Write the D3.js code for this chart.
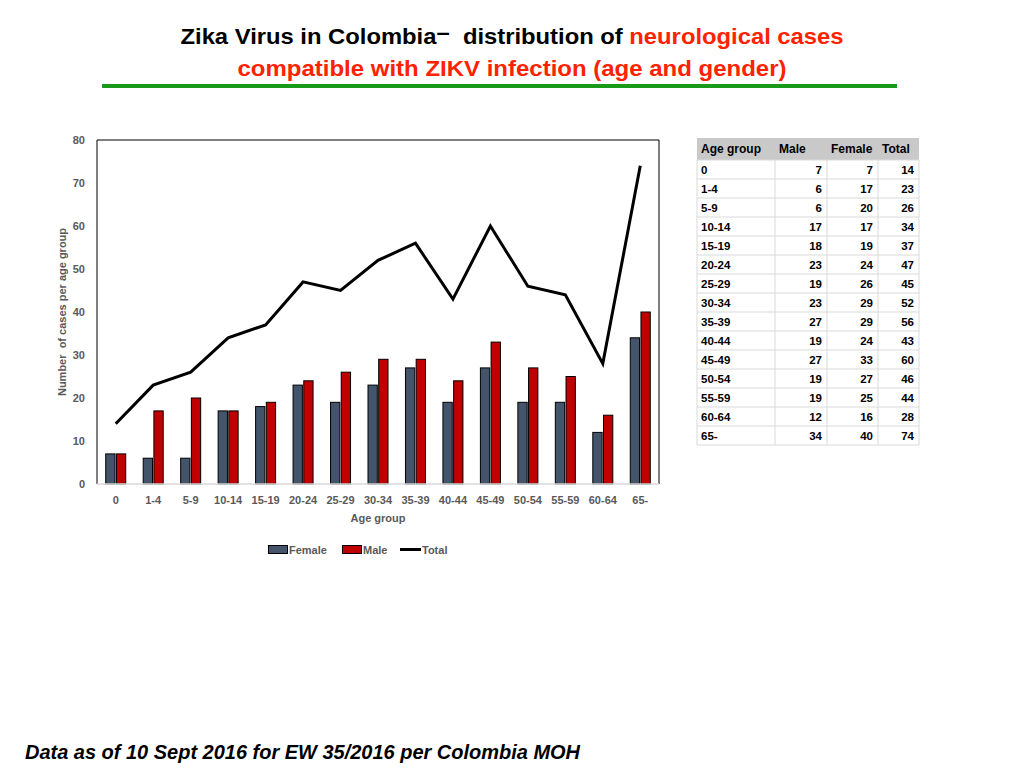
<!DOCTYPE html>
<html>
<head>
<meta charset="utf-8">
<script src="https://cdn.jsdelivr.net/npm/d3@7"></script>
<style>
  body { margin: 0; background: #fff; }
  svg text { font-family: "Liberation Sans", Arial, Helvetica, sans-serif; white-space: pre; }
</style>
</head>
<body>
<div id="chart"></div>
<script>
// age groups and counts (as listed in the table on the slide)
var ageGroups = ["0", "1-4", "5-9", "10-14", "15-19", "20-24", "25-29", "30-34",
                 "35-39", "40-44", "45-49", "50-54", "55-59", "60-64", "65-"];
var maleCases   = [7, 6, 6, 17, 18, 23, 19, 23, 27, 19, 27, 19, 19, 12, 34];
var femaleCases = [7, 17, 20, 17, 19, 24, 26, 29, 29, 24, 33, 27, 25, 16, 40];
var totalCases  = [14, 23, 26, 34, 37, 47, 45, 52, 56, 43, 60, 46, 44, 28, 74];
var yTicks = [0, 10, 20, 30, 40, 50, 60, 70, 80];
// the chart legend on the slide labels the first column "Female", the second "Male"
var barSeries = ["Female", "Male"];
var tableHeader = ["Age group", "Male", "Female", "Total"];

var dark = "#44546a", red = "#c00000", gray = "#595959";

var svg = d3.select("#chart").append("svg")
    .attr("width", 1024).attr("height", 768);

// title
var t1 = svg.append("text").attr("x", 512).attr("y", 44)
    .attr("text-anchor", "middle").attr("font-size", 22).attr("font-weight", "bold")
    .attr("textLength", 663).attr("lengthAdjust", "spacingAndGlyphs");
t1.append("tspan").attr("fill", "#000").text("Zika Virus in Colombia");
t1.append("tspan").attr("fill", "#000").attr("dy", -4).text("\u2013");
t1.append("tspan").attr("fill", "#000").attr("dy", 4).text("  distribution of ");
t1.append("tspan").attr("fill", "#ff2200").text("neurological cases");
svg.append("text").attr("x", 512).attr("y", 76)
    .attr("text-anchor", "middle").attr("font-size", 22).attr("font-weight", "bold")
    .attr("fill", "#ff2200")
    .attr("textLength", 549).attr("lengthAdjust", "spacingAndGlyphs")
    .text("compatible with ZIKV infection (age and gender)");
svg.append("rect").attr("x", 102).attr("y", 84).attr("width", 795).attr("height", 4)
    .attr("fill", "#1a9a1a");

// chart
var plotL = 97, plotR = 659, plotT = 140, plotB = 484;
var x = d3.scaleBand().domain(ageGroups).range([plotL, plotR]);
var y = d3.scaleLinear().domain([0, 80]).range([plotB, plotT]);
var bw = x.bandwidth();
var x1 = d3.scaleBand().domain(barSeries).range([bw / 2 - 10, bw / 2 + 10]).paddingInner(0.13);

var rows = ageGroups.map(function(g, i) {
    return { group: g, Female: maleCases[i], Male: femaleCases[i], total: totalCases[i] };
});

// frame
svg.append("path")
    .attr("d", "M" + plotL + "," + plotB + "V" + plotT + "H" + plotR + "V" + plotB)
    .attr("fill", "none").attr("stroke", "#000").attr("stroke-width", 1);

// y axis
var yAxis = svg.append("g").attr("transform", "translate(" + plotL + ",0)")
    .call(d3.axisLeft(y).tickValues(yTicks).tickSize(0).tickPadding(12));
yAxis.select(".domain").remove();
yAxis.selectAll("text").attr("font-size", 11).attr("font-weight", "bold").attr("fill", gray)
    .attr("font-family", "Liberation Sans, Arial, sans-serif");

svg.append("text")
    .attr("transform", "translate(66," + ((plotT + plotB) / 2) + ") rotate(-90)")
    .attr("text-anchor", "middle").attr("font-size", 11).attr("font-weight", "bold")
    .attr("fill", gray).text("Number  of cases per age group");

// x axis
var xAxis = svg.append("g").attr("transform", "translate(0," + plotB + ")")
    .call(d3.axisBottom(x).tickSize(0).tickPadding(12));
xAxis.select(".domain").remove();
xAxis.selectAll("text").attr("font-size", 11).attr("font-weight", "bold").attr("fill", gray)
    .attr("font-family", "Liberation Sans, Arial, sans-serif");

svg.append("text").attr("x", (plotL + plotR) / 2).attr("y", 522)
    .attr("text-anchor", "middle").attr("font-size", 11).attr("font-weight", "bold")
    .attr("fill", gray).text("Age group");

// bars
var colors = { Female: dark, Male: red };
svg.append("g").selectAll("g")
    .data(rows).enter().append("g")
    .attr("transform", function(d) { return "translate(" + x(d.group) + ",0)"; })
    .selectAll("rect")
    .data(function(d) { return barSeries.map(function(k) { return { key: k, value: d[k] }; }); })
    .enter().append("rect")
    .attr("x", function(d) { return x1(d.key); })
    .attr("y", function(d) { return y(d.value); })
    .attr("width", x1.bandwidth())
    .attr("height", function(d) { return plotB - y(d.value); })
    .attr("fill", function(d) { return colors[d.key]; })
    .attr("stroke", "#000").attr("stroke-width", 1);

svg.append("line").attr("x1", plotL).attr("x2", plotR).attr("y1", plotB).attr("y2", plotB)
    .attr("stroke", "#d9d9d9").attr("stroke-width", 1.5);

// total line
var line = d3.line()
    .x(function(d) { return x(d.group) + bw / 2; })
    .y(function(d) { return y(d.total); });
svg.append("path").datum(rows).attr("d", line)
    .attr("fill", "none").attr("stroke", "#000").attr("stroke-width", 3)
    .attr("stroke-linejoin", "miter");

// legend
var legend = svg.append("g").attr("transform", "translate(268,550)");
var legItems = [
    { name: "Female", type: "rect", color: dark, x: 0 },
    { name: "Male", type: "rect", color: red, x: 74 },
    { name: "Total", type: "line", color: "#000", x: 132 }
];
legend.selectAll("g").data(legItems).enter().append("g")
    .attr("transform", function(d) { return "translate(" + d.x + ",0)"; })
    .each(function(d) {
        var g = d3.select(this);
        if (d.type === "rect") {
            g.append("rect").attr("x", 0.5).attr("y", -4.5).attr("width", 19).attr("height", 8)
                .attr("fill", d.color).attr("stroke", "#000").attr("stroke-width", 1);
        } else {
            g.append("line").attr("x1", 0).attr("x2", 21).attr("y1", -0.5).attr("y2", -0.5)
                .attr("stroke", d.color).attr("stroke-width", 3);
        }
        g.append("text").attr("x", d.type === "rect" ? 21 : 22).attr("y", 4).attr("font-size", 11)
            .attr("font-weight", "bold").attr("fill", gray).text(d.name);
    });

// table
var tx = [697, 775, 827, 878, 919];
var ty0 = 138, headH = 22, rowH = 19;
var tbl = svg.append("g");
tbl.append("rect").attr("x", tx[0]).attr("y", ty0).attr("width", tx[4] - tx[0]).attr("height", headH)
    .attr("fill", "#c9c9c9");
tableHeader.forEach(function(h, j) {
    tbl.append("text").attr("x", tx[j] + 4).attr("y", ty0 + 15)
        .attr("font-size", 12).attr("font-weight", "bold").attr("fill", "#000").text(h);
});
var tableRows = ageGroups.map(function(g, i) {
    return [g, maleCases[i], femaleCases[i], totalCases[i]];
});
var rowY = function(i) { return ty0 + headH + i * rowH; };
tbl.selectAll("g.row").data(tableRows).enter().append("g").attr("class", "row")
    .each(function(r, i) {
        var g = d3.select(this);
        r.forEach(function(v, j) {
            g.append("text")
                .attr("x", j === 0 ? tx[0] + 4 : tx[j + 1] - 5)
                .attr("y", rowY(i) + 14)
                .attr("text-anchor", j === 0 ? "start" : "end")
                .attr("font-size", 11.5).attr("font-weight", "bold").attr("fill", "#000")
                .text(v);
        });
    });
// grid lines
for (var i = 0; i <= tableRows.length; i++) {
    tbl.append("line").attr("x1", tx[0]).attr("x2", tx[4])
        .attr("y1", rowY(i)).attr("y2", rowY(i))
        .attr("stroke", "#d9d9d9").attr("stroke-width", 1);
}
tx.forEach(function(v) {
    tbl.append("line").attr("x1", v).attr("x2", v)
        .attr("y1", ty0 + headH).attr("y2", rowY(tableRows.length))
        .attr("stroke", "#d9d9d9").attr("stroke-width", 1);
});

// footer
svg.append("text").attr("x", 25).attr("y", 759)
    .attr("font-size", 20).attr("font-weight", "bold").attr("font-style", "italic")
    .attr("fill", "#000").attr("textLength", 555).attr("lengthAdjust", "spacingAndGlyphs")
    .text("Data as of 10 Sept 2016 for EW 35/2016 per Colombia MOH");
</script>
</body>
</html>
